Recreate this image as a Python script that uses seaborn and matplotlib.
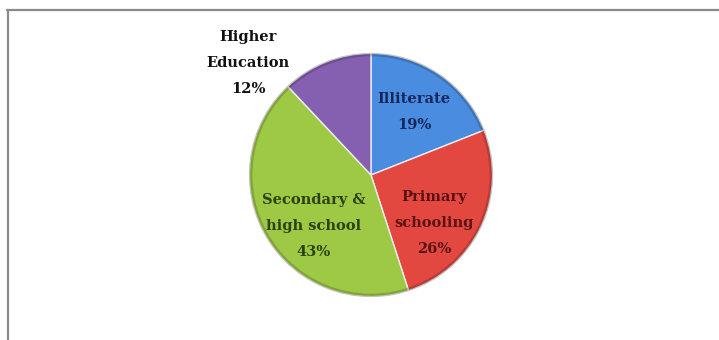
import matplotlib
matplotlib.use("Agg")
import matplotlib.pyplot as plt
import seaborn as sns
import numpy as np
from matplotlib.lines import Line2D
from matplotlib.patches import Circle

categories = ["Illiterate", "Primary\nschooling", "Secondary &\nhigh school", "Higher\nEducation"]
values = [19, 26, 43, 12]
colors = ["#4a8ce0", "#e24840", "#9ec944", "#8660b0"]
text_colors = ["#16285a", "#5a1212", "#2c4212", "#111111"]

sns.set_theme(style="white")
plt.rcParams['font.family'] = ['DejaVu Serif']

fig = plt.figure(figsize=(7.19, 3.4), dpi=100)
fig.patch.set_facecolor("white")

# chart frame
fig.add_artist(Line2D([7/719, 1.0], [1 - 10/340, 1 - 10/340], transform=fig.transFigure,
                      color="#8a8a8a", lw=1.6))
fig.add_artist(Line2D([8/719, 8/719], [0, 1 - 10/340], transform=fig.transFigure,
                      color="#8a8a8a", lw=1.6))

ax = fig.add_axes([(371 - 124) / 719, (340 - 175 - 124) / 340, 248 / 719, 248 / 340])
wedges, _ = ax.pie(values, colors=colors, startangle=90, counterclock=False,
                   wedgeprops=dict(edgecolor="#eeeeee", linewidth=1.0))
# soft darker rim like the reference's bevel
ax.add_patch(Circle((0, 0), 0.99, fill=False, edgecolor="#000000", alpha=0.18, lw=2.5))
ax.set_xlim(-1.02, 1.02)
ax.set_ylim(-1.02, 1.02)
ax.set_aspect("equal")
ax.axis("off")

# label placement (angle offset in degrees, radius as fraction of pie radius)
label_pos = [(0.0, 0.63), (-12.0, 0.65), (11.0, 0.63), (26.0, 1.37)]
for w, cat, v, tc, (da, r) in zip(wedges, categories, values, text_colors, label_pos):
    ang = np.deg2rad((w.theta1 + w.theta2) / 2 + da)
    ax.text(r * np.cos(ang), r * np.sin(ang), f"{cat}\n{v}%", ha="center", va="center",
            fontsize=10.5, fontweight="bold", color=tc, linespacing=2.1,
            clip_on=False)

fig.savefig("out.png", dpi=100, facecolor="white")
